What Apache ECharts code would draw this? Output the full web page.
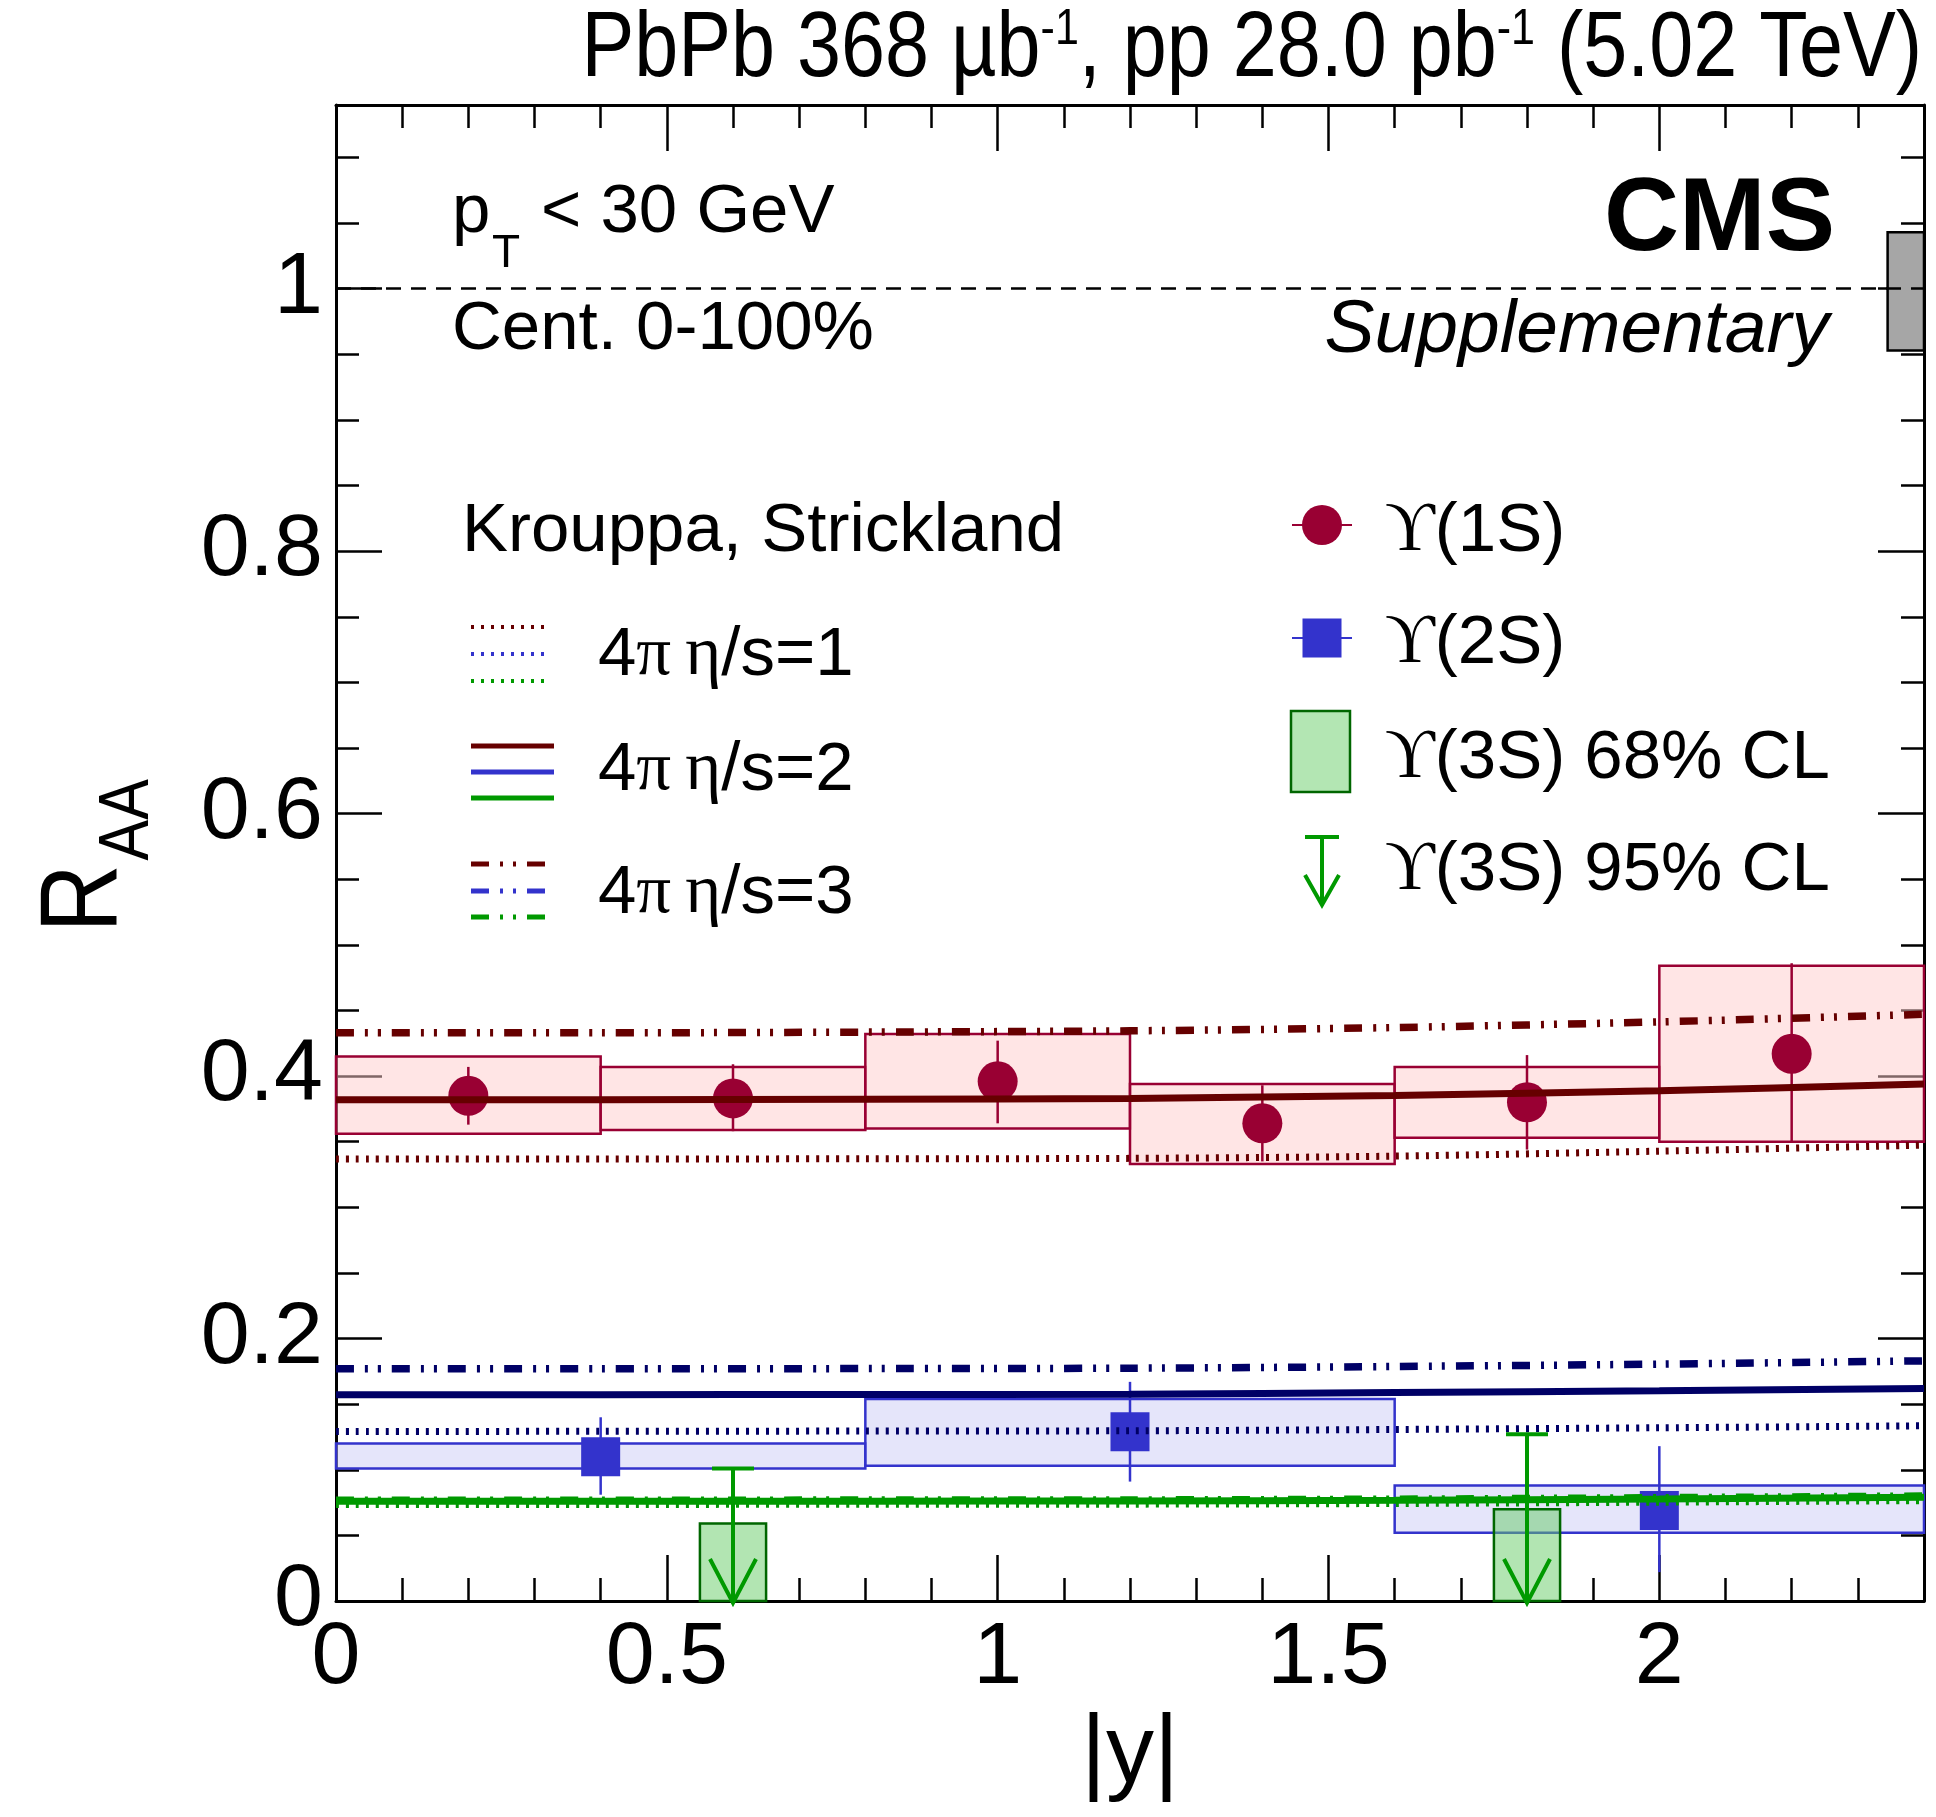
<!DOCTYPE html>
<html>
<head>
<meta charset="utf-8">
<title>Upsilon RAA vs |y|</title>
<script src="https://cdn.jsdelivr.net/npm/echarts@6/dist/echarts.min.js"></script>
<style>
    html, body { margin: 0; padding: 0; background: #fff; }
    #main { width: 1936px; height: 1817px; }
</style>
</head>
<body>
<div id="main"></div>
<script>
// axis ranges and tick steps
var xRange = [0, 2.4];
var yRange = [0, 1.14];
var xMajor = 0.5, xMinor = 0.1;
var yMajor = 0.2, yMinor = 0.05;

// Upsilon(1S)
var y1sBinLo = [0, 0.4, 0.8, 1.2, 1.6, 2.0];
var y1sBinHi = [0.4, 0.8, 1.2, 1.6, 2.0, 2.4];
var y1sX = [0.2, 0.6, 1.0, 1.4, 1.8, 2.2];
var y1sVal = [0.385, 0.383, 0.396, 0.364, 0.380, 0.417];
var y1sStatLo = [0.363, 0.358, 0.364, 0.335, 0.344, 0.349];
var y1sStatHi = [0.407, 0.409, 0.427, 0.393, 0.416, 0.486];
var y1sSysLo = [0.356, 0.359, 0.360, 0.333, 0.353, 0.350];
var y1sSysHi = [0.415, 0.407, 0.432, 0.394, 0.407, 0.484];

// Upsilon(2S)
var y2sBinLo = [0, 0.8, 1.6];
var y2sBinHi = [0.8, 1.6, 2.4];
var y2sX = [0.4, 1.2, 2.0];
var y2sVal = [0.110, 0.129, 0.069];
var y2sStatLo = [0.081, 0.091, 0.022];
var y2sStatHi = [0.140, 0.167, 0.118];
var y2sSysLo = [0.101, 0.103, 0.052];
var y2sSysHi = [0.120, 0.154, 0.088];

// Upsilon(3S) upper limits
var y3sX = [0.6, 1.8];
var y3sBoxLo = [0.55, 1.75];
var y3sBoxHi = [0.65, 1.85];
var y3sUL68 = [0.059, 0.070];
var y3sUL95 = [0.101, 0.127];

// Krouppa, Strickland model curves
var modelX = [0, 0.4, 0.8, 1.2, 1.6, 2.0, 2.4];
var m1sEta1 = [0.3368, 0.3368, 0.3370, 0.3373, 0.3390, 0.3428, 0.3474];
var m1sEta2 = [0.3820, 0.3820, 0.3823, 0.3830, 0.3853, 0.3888, 0.3940];
var m1sEta3 = [0.4330, 0.4330, 0.4335, 0.4345, 0.4370, 0.4413, 0.4471];
var m2sEta1 = [0.1292, 0.1293, 0.1295, 0.1297, 0.1307, 0.1320, 0.1335];
var m2sEta2 = [0.1571, 0.1572, 0.1574, 0.1576, 0.1589, 0.1602, 0.1620];
var m2sEta3 = [0.1769, 0.1770, 0.1771, 0.1774, 0.1787, 0.1805, 0.1830];
var m3sEta1 = [0.0736, 0.0736, 0.0737, 0.0738, 0.0743, 0.0753, 0.0765];
var m3sEta2 = [0.0760, 0.0760, 0.0761, 0.0762, 0.0767, 0.0777, 0.0790];
var m3sEta3 = [0.0768, 0.0768, 0.0769, 0.0770, 0.0776, 0.0787, 0.0800];

// global uncertainty [xLo, xHi, yLo, yHi]
var globalUnc = [2.345, 2.4, 0.953, 1.043];
var unity = 1;

var SANS = "'Liberation Sans', Arial, Helvetica, sans-serif";
var SERIF = "'Liberation Serif', 'DejaVu Serif', serif";

var DOTTED = [3, 7];
var DASHDOT = [18, 11, 3, 10, 3, 11];

function zip() {
    var cols = Array.prototype.slice.call(arguments);
    return cols[0].map(function (v, i) {
        return cols.map(function (c) { return c[i]; });
    });
}

// box from [x0, x1, yLo, yHi]
function boxRender(fill, stroke, lw) {
    return function (params, api) {
        var a = api.coord([api.value(0), api.value(3)]);
        var b = api.coord([api.value(1), api.value(2)]);
        return {
            type: 'rect',
            shape: { x: a[0], y: a[1], width: b[0] - a[0], height: b[1] - a[1] },
            style: { fill: fill, stroke: stroke, lineWidth: lw }
        };
    };
}

// vertical bar from [x, lo, hi]
function errRender(color) {
    return function (params, api) {
        var lo = api.coord([api.value(0), api.value(1)]);
        var hi = api.coord([api.value(0), api.value(2)]);
        return {
            type: 'line',
            shape: { x1: lo[0], y1: lo[1], x2: hi[0], y2: hi[1] },
            style: { stroke: color, lineWidth: 2.5 }
        };
    };
}

// upper limit arrow from [x, ul]
function arrowRender(params, api) {
    var top = api.coord([api.value(0), api.value(1)]);
    var bot = api.coord([api.value(0), 0]);
    var st = { stroke: '#009900', lineWidth: 4, fill: null };
    return {
        type: 'group',
        children: [
            { type: 'line', shape: { x1: top[0] - 21, y1: top[1], x2: top[0] + 21, y2: top[1] }, style: st },
            { type: 'line', shape: { x1: top[0], y1: top[1], x2: bot[0], y2: bot[1] }, style: st },
            { type: 'polyline', shape: { points: [[bot[0] - 23, bot[1] - 42], [bot[0], bot[1] + 2], [bot[0] + 23, bot[1] - 42]] }, style: st }
        ]
    };
}

function modelLine(vals, color, dash, width, z) {
    return {
        type: 'line',
        data: zip(modelX, vals),
        symbol: 'none',
        smooth: 0.3,
        silent: true,
        z: z,
        lineStyle: { color: color, width: width, type: dash, cap: 'butt' }
    };
}

function axisX(pos, step, len, labels, line) {
    return {
        type: 'value', position: pos, min: xRange[0], max: xRange[1], interval: step,
        axisLine: { show: line, onZero: false, lineStyle: { color: '#000', width: 3 } },
        axisTick: { show: true, inside: true, length: len, lineStyle: { color: '#000', width: 2.5 } },
        axisLabel: { show: labels, fontSize: 88, fontFamily: SANS, color: '#000', margin: 14, showMaxLabel: false },
        splitLine: { show: false }
    };
}

function axisY(pos, step, len, labels, line) {
    return {
        type: 'value', position: pos, min: yRange[0], max: yRange[1], interval: step,
        axisLine: { show: line, onZero: false, lineStyle: { color: '#000', width: 3 } },
        axisTick: { show: true, inside: true, length: len, lineStyle: { color: '#000', width: 2.5 } },
        axisLabel: { show: labels, fontSize: 88, fontFamily: SANS, color: '#000', margin: 13, showMaxLabel: false },
        splitLine: { show: false }
    };
}

// text placed by its baseline
function txt(x, baseline, size, text, extra) {
    var st = { text: text, fontSize: size, fontFamily: SANS, fill: '#000', align: 'left', verticalAlign: 'middle' };
    for (var k in extra) st[k] = extra[k];
    return { type: 'text', x: x, y: baseline - 0.28 * size, style: st, silent: true };
}

function legLine(x1, x2, y, color, width, dash) {
    return {
        type: 'line', silent: true,
        shape: { x1: x1, y1: y, x2: x2, y2: y },
        style: { stroke: color, lineWidth: width, lineDash: dash || null }
    };
}

var richGreek = {
    t: { fontSize: 69, fontFamily: SANS, fill: '#000' },
    g: { fontSize: 69, fontFamily: SERIF, fill: '#000' },
    h: { fontSize: 69, fontFamily: SERIF, fill: '#000', padding: [0, 0, 0, 14] }
};

var legColors = ['#660000', '#3333cc', '#009900'];
var graphics = [];

// header texts
graphics.push({
    type: 'text', x: 1922, y: 5, scaleX: 0.86, silent: true,
    style: {
        text: '{a|PbPb 368 µb}{s|-1}{a|, pp 28.0 pb}{s|-1}{a| (5.02 TeV)}',
        align: 'right', verticalAlign: 'top',
        rich: {
            a: { fontSize: 92, lineHeight: 92, fontFamily: SANS, fill: '#000' },
            s: { fontSize: 50, lineHeight: 50, fontFamily: SANS, fill: '#000', verticalAlign: 'top' }
        }
    }
});
graphics.push(txt(1835, 250, 104, 'CMS', { align: 'right', fontWeight: 'bold' }));
graphics.push(txt(1829, 352, 75, 'Supplementary', { align: 'right', fontStyle: 'italic' }));
graphics.push(txt(452, 232, 69, 'p'));
graphics.push(txt(492, 267, 46, 'T'));
graphics.push(txt(541, 232, 69, '< 30 GeV'));
graphics.push(txt(452, 349, 69, 'Cent. 0-100%'));

// y axis title R_AA
graphics.push({
    type: 'group', x: 124, y: 925, rotation: Math.PI / 2, scaleX: 0.86, silent: true,
    children: [
        { type: 'text', x: -8.7, y: -38.1, style: { text: 'R', fontSize: 110, fontFamily: SANS, fill: '#000', align: 'left', verticalAlign: 'middle' } },
        { type: 'text', x: 75, y: 4.4, style: { text: 'AA', fontSize: 71, fontFamily: SANS, fill: '#000', align: 'left', verticalAlign: 'middle' } }
    ]
});

// model legend
graphics.push(txt(462, 551, 69, 'Krouppa, Strickland'));
var legRows = [
    { ys: [627, 654, 681], dash: DOTTED, x2: 548, w: 4, base: 675, label: '1' },
    { ys: [746, 772, 798], dash: null, x2: 554, w: 5, base: 790, label: '2' },
    { ys: [864, 891, 917], dash: DASHDOT, x2: 545, w: 5, base: 913, label: '3' }
];
legRows.forEach(function (r) {
    r.ys.forEach(function (y, i) {
        graphics.push(legLine(471, r.x2, y, legColors[i], r.w, r.dash));
    });
    graphics.push(txt(598, r.base, 69, '{t|4}{g|π}{h|η}{t|/s=' + r.label + '}', { rich: richGreek }));
});

// data legend
graphics.push(legLine(1292, 1352, 525, '#990033', 2));
graphics.push({ type: 'circle', silent: true, shape: { cx: 1322, cy: 525, r: 20 }, style: { fill: '#990033' } });
graphics.push(legLine(1292, 1352, 638, '#3333cc', 2));
graphics.push({ type: 'rect', silent: true, shape: { x: 1302.5, y: 618.5, width: 39, height: 39 }, style: { fill: '#3333cc' } });
graphics.push({ type: 'rect', silent: true, shape: { x: 1291, y: 711, width: 59, height: 81 }, style: { fill: '#b3e6b3', stroke: '#006600', lineWidth: 2.5 } });
graphics.push(legLine(1305, 1339, 837, '#009900', 4));
graphics.push({ type: 'line', silent: true, shape: { x1: 1322, y1: 837, x2: 1322, y2: 905 }, style: { stroke: '#009900', lineWidth: 4 } });
graphics.push({ type: 'polyline', silent: true, shape: { points: [[1305, 875], [1322, 905], [1339, 875]] }, style: { stroke: '#009900', lineWidth: 4, fill: null } });
var legData = [
    [551, '(1S)'],
    [663, '(2S)'],
    [778, '(3S) 68% CL'],
    [890, '(3S) 95% CL']
];
legData.forEach(function (d) {
    graphics.push(txt(1385, d[0], 69, '{g|ϒ}{t|' + d[1] + '}', { rich: richGreek }));
});

var chart = echarts.init(document.getElementById('main'));

chart.setOption({
    backgroundColor: '#fff',
    animation: false,
    grid: { left: 336, right: 12, top: 105, bottom: 216, containLabel: false, outerBoundsMode: 'none' },
    xAxis: [
        Object.assign(axisX('bottom', xMajor, 46, true, true), {
            name: '|y|', nameLocation: 'middle', nameGap: 104,
            nameTextStyle: { fontSize: 96, fontFamily: SANS, color: '#000' }
        }),
        axisX('bottom', xMinor, 23, false, false),
        axisX('top', xMajor, 46, false, true),
        axisX('top', xMinor, 23, false, false)
    ],
    yAxis: [
        axisY('left', yMajor, 46, true, true),
        axisY('left', yMinor, 23, false, false),
        axisY('right', yMajor, 46, false, true),
        axisY('right', yMinor, 23, false, false)
    ],
    graphic: { elements: graphics },
    series: [
        {
            // global uncertainty and unity line
            type: 'custom', z: 2, silent: true,
            renderItem: boxRender('#a6a6a6', '#000', 2.5),
            data: [globalUnc],
            markLine: {
                silent: true, symbol: ['none', 'none'], label: { show: false },
                lineStyle: { color: '#000', width: 2.5, type: [15, 10] },
                data: [{ yAxis: unity }]
            }
        },
        {
            type: 'custom', z: 2, silent: true,
            renderItem: boxRender('rgba(255,204,204,0.5)', '#990033', 2.5),
            data: zip(y1sBinLo, y1sBinHi, y1sSysLo, y1sSysHi)
        },
        {
            type: 'custom', z: 2, silent: true,
            renderItem: boxRender('rgba(204,204,245,0.5)', '#3333cc', 2.5),
            data: zip(y2sBinLo, y2sBinHi, y2sSysLo, y2sSysHi)
        },
        {
            type: 'custom', z: 3, silent: true,
            renderItem: boxRender('rgba(102,204,102,0.5)', '#006600', 2.5),
            data: zip(y3sBoxLo, y3sBoxHi, y3sX.map(function () { return 0; }), y3sUL68)
        },
        {
            type: 'custom', z: 3, silent: true,
            renderItem: errRender('#990033'),
            data: zip(y1sX, y1sStatLo, y1sStatHi)
        },
        {
            type: 'custom', z: 3, silent: true,
            renderItem: errRender('#3333cc'),
            data: zip(y2sX, y2sStatLo, y2sStatHi)
        },
        {
            type: 'scatter', z: 4, silent: true,
            symbol: 'circle', symbolSize: 40,
            itemStyle: { color: '#990033', opacity: 1 },
            data: zip(y1sX, y1sVal)
        },
        {
            type: 'scatter', z: 4, silent: true,
            symbol: 'rect', symbolSize: 39,
            itemStyle: { color: '#3333cc', opacity: 1 },
            data: zip(y2sX, y2sVal)
        },
        modelLine(m1sEta1, '#660000', DOTTED, 7, 5),
        modelLine(m1sEta3, '#660000', DASHDOT, 7.5, 5),
        modelLine(m1sEta2, '#660000', 'solid', 7, 5),
        modelLine(m2sEta1, '#000066', DOTTED, 7, 5),
        modelLine(m2sEta3, '#000066', DASHDOT, 7.5, 5),
        modelLine(m2sEta2, '#000066', 'solid', 7, 5),
        modelLine(m3sEta1, '#009900', DOTTED, 7, 5),
        modelLine(m3sEta3, '#009900', DASHDOT, 7.5, 5),
        modelLine(m3sEta2, '#009900', 'solid', 7, 5),
        {
            type: 'custom', z: 6, silent: true,
            renderItem: arrowRender,
            data: zip(y3sX, y3sUL95)
        }
    ]
});
</script>
</body>
</html>
